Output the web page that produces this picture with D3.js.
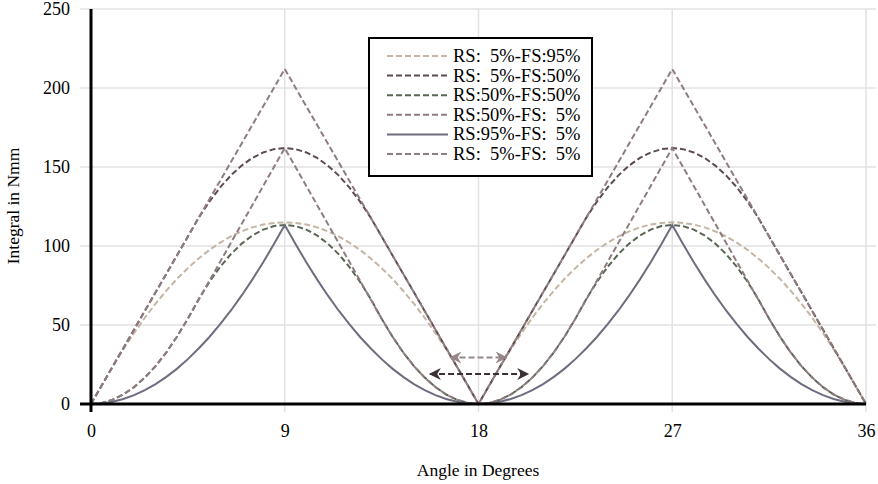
<!DOCTYPE html>
<html>
<head>
<meta charset="utf-8">
<script src="https://cdn.jsdelivr.net/npm/d3@7"></script>
<style>
	body { margin: 0; background: #fff; }
	svg text { font-family: 'Liberation Serif', 'Times New Roman', serif; fill: #000; }
</style>
</head>
<body>
<svg id="chart" width="878" height="484"></svg>
<script>
// Angle grid, 0.5 degree steps.
const angles = [
	0, 0.5, 1, 1.5, 2, 2.5, 3, 3.5, 4, 4.5, 5, 5.5, 6, 6.5, 7, 7.5, 8, 8.5, 9,
	9.5, 10, 10.5, 11, 11.5, 12, 12.5, 13, 13.5, 14, 14.5, 15, 15.5, 16, 16.5, 17, 17.5, 18,
	18.5, 19, 19.5, 20, 20.5, 21, 21.5, 22, 22.5, 23, 23.5, 24, 24.5, 25, 25.5, 26, 26.5, 27,
	27.5, 28, 28.5, 29, 29.5, 30, 30.5, 31, 31.5, 32, 32.5, 33, 33.5, 34, 34.5, 35, 35.5, 36
];

const rs5fs95 = [
	0, 11.8, 23.5, 34.6, 44.9, 54.6, 63.5, 71.7, 79.3, 86, 92.1, 97.5, 102.1, 106.1, 109.3, 111.8, 113.6, 114.6, 115,
	114.6, 113.6, 111.8, 109.3, 106.1, 102.1, 97.5, 92.1, 86, 79.3, 71.7, 63.5, 54.6, 44.9, 34.6, 23.5, 11.8, 0,
	11.8, 23.5, 34.6, 44.9, 54.6, 63.5, 71.7, 79.3, 86, 92.1, 97.5, 102.1, 106.1, 109.3, 111.8, 113.6, 114.6, 115,
	114.6, 113.6, 111.8, 109.3, 106.1, 102.1, 97.5, 92.1, 86, 79.3, 71.7, 63.5, 54.6, 44.9, 34.6, 23.5, 11.8, 0
];

const rs5fs50 = [
	0, 11.8, 23.6, 35.3, 47.1, 58.9, 70.7, 82.4, 94.2, 106, 117.8, 128.1, 137.1, 144.7, 150.9, 155.8, 159.2, 161.3, 162,
	161.3, 159.2, 155.8, 150.9, 144.7, 137.1, 128.1, 117.8, 106, 94.2, 82.4, 70.7, 58.9, 47.1, 35.3, 23.6, 11.8, 0,
	11.8, 23.6, 35.3, 47.1, 58.9, 70.7, 82.4, 94.2, 106, 117.8, 128.1, 137.1, 144.7, 150.9, 155.8, 159.2, 161.3, 162,
	161.3, 159.2, 155.8, 150.9, 144.7, 137.1, 128.1, 117.8, 106, 94.2, 82.4, 70.7, 58.9, 47.1, 35.3, 23.6, 11.8, 0
];

const rs50fs50 = [
	0, 0.7, 2.7, 6, 10.7, 16.7, 24, 32.7, 42.7, 54, 66.3, 77.3, 86.8, 94.9, 101.5, 106.7, 110.4, 112.6, 113.3,
	112.6, 110.4, 106.7, 101.5, 94.9, 86.8, 77.3, 66.3, 54, 42.7, 32.7, 24, 16.7, 10.7, 6, 2.7, 0.7, 0,
	0.7, 2.7, 6, 10.7, 16.7, 24, 32.7, 42.7, 54, 66.3, 77.3, 86.8, 94.9, 101.5, 106.7, 110.4, 112.6, 113.3,
	112.6, 110.4, 106.7, 101.5, 94.9, 86.8, 77.3, 66.3, 54, 42.7, 32.7, 24, 16.7, 10.7, 6, 2.7, 0.7, 0
];

const rs50fs5 = [
	0, 0.7, 2.7, 6, 10.7, 16.7, 24, 32.7, 42.7, 54, 66, 78, 90, 102, 114, 126, 138, 150, 162,
	150, 138, 126, 114, 102, 90, 78, 66, 54, 42.7, 32.7, 24, 16.7, 10.7, 6, 2.7, 0.7, 0,
	0.7, 2.7, 6, 10.7, 16.7, 24, 32.7, 42.7, 54, 66, 78, 90, 102, 114, 126, 138, 150, 162,
	150, 138, 126, 114, 102, 90, 78, 66, 54, 42.7, 32.7, 24, 16.7, 10.7, 6, 2.7, 0.7, 0
];

const rs95fs5 = [
	0, 0.4, 1.4, 3.2, 5.6, 8.8, 12.6, 17.2, 22.4, 28.4, 35.1, 42.4, 50.5, 59.2, 68.7, 78.9, 89.7, 101.3, 113.3,
	101.3, 89.7, 78.9, 68.7, 59.2, 50.5, 42.4, 35.1, 28.4, 22.4, 17.2, 12.6, 8.8, 5.6, 3.2, 1.4, 0.4, 0,
	0.4, 1.4, 3.2, 5.6, 8.8, 12.6, 17.2, 22.4, 28.4, 35.1, 42.4, 50.5, 59.2, 68.7, 78.9, 89.7, 101.3, 113.3,
	101.3, 89.7, 78.9, 68.7, 59.2, 50.5, 42.4, 35.1, 28.4, 22.4, 17.2, 12.6, 8.8, 5.6, 3.2, 1.4, 0.4, 0
];

const rs5fs5 = [
	0, 11.8, 23.6, 35.3, 47.1, 58.9, 70.7, 82.4, 94.2, 106, 117.8, 129.6, 141.3, 153.1, 164.9, 176.7, 188.4, 200.2, 212,
	200.2, 188.4, 176.7, 164.9, 153.1, 141.3, 129.6, 117.8, 106, 94.2, 82.4, 70.7, 58.9, 47.1, 35.3, 23.6, 11.8, 0,
	11.8, 23.6, 35.3, 47.1, 58.9, 70.7, 82.4, 94.2, 106, 117.8, 129.6, 141.3, 153.1, 164.9, 176.7, 188.4, 200.2, 212,
	200.2, 188.4, 176.7, 164.9, 153.1, 141.3, 129.6, 117.8, 106, 94.2, 82.4, 70.7, 58.9, 47.1, 35.3, 23.6, 11.8, 0
];

const seriesNames = ['RS:  5%-FS:95%', 'RS:  5%-FS:50%', 'RS:50%-FS:50%', 'RS:50%-FS:  5%', 'RS:95%-FS:  5%', 'RS:  5%-FS:  5%'];
const seriesValues = [rs5fs95, rs5fs50, rs50fs50, rs50fs5, rs95fs5, rs5fs5];

const xTicks = [0, 9, 18, 27, 36];
const yTicks = [0, 50, 100, 150, 200, 250];

// Double arrows around 18 degrees: [from, to, level].
const arrowOuter = [15.75, 20.3, 19];
const arrowInner = [16.7, 19.3, 29.5];

const styles = [
	{ color: '#c4b5a5', dash: '6,3' },
	{ color: '#5d4b4d', dash: '6,3' },
	{ color: '#5a6654', dash: '6,3' },
	{ color: '#8f7c80', dash: '6,3' },
	{ color: '#6e6c7f', dash: null },
	{ color: '#8f7c80', dash: '6,3' }
];

const svg = d3.select('#chart');

const x = d3.scaleLinear().domain([0, 36]).range([91, 866]);
const y = d3.scaleLinear().domain([0, 250]).range([404, 9]);

// Grid.
const grid = svg.append('g').attr('stroke', '#e2e2e2').attr('stroke-width', 1.5);

grid.selectAll('line.h')
	.data(yTicks.filter(d => d > 0))
	.join('line')
	.attr('class', 'h')
	.attr('x1', 80)
	.attr('x2', 876)
	.attr('y1', d => y(d))
	.attr('y2', d => y(d));

grid.selectAll('line.v')
	.data(xTicks.filter(d => d > 0))
	.join('line')
	.attr('class', 'v')
	.attr('x1', d => x(d))
	.attr('x2', d => x(d))
	.attr('y1', y(250))
	.attr('y2', 412);

// Tick labels.
const yAxis = svg.append('g')
	.attr('transform', `translate(${x(0)},0)`)
	.call(d3.axisLeft(y).tickValues(yTicks).tickSize(0).tickPadding(21));

const xAxis = svg.append('g')
	.attr('transform', `translate(0,${y(0)})`)
	.call(d3.axisBottom(x).tickValues(xTicks).tickSize(0).tickPadding(20));

[xAxis, yAxis].forEach(g => {
	g.select('.domain').remove();
	g.attr('font-family', null).attr('font-size', 18);
});

// Curves.
const line = d3.line()
	.x((d, i) => x(angles[i]))
	.y(d => y(d));

svg.append('g')
	.attr('fill', 'none')
	.selectAll('path')
	.data(seriesValues)
	.join('path')
	.attr('d', line)
	.attr('stroke', (d, i) => styles[i].color)
	.attr('stroke-width', 2)
	.attr('stroke-dasharray', (d, i) => styles[i].dash);

// Axis lines on top of the curves.
svg.append('line')
	.attr('x1', 80).attr('x2', x(36))
	.attr('y1', y(0)).attr('y2', y(0))
	.attr('stroke', '#000').attr('stroke-width', 3);

svg.append('line')
	.attr('x1', x(0)).attr('x2', x(0))
	.attr('y1', y(250)).attr('y2', 412)
	.attr('stroke', '#000').attr('stroke-width', 3);

// Arrow markers.
const defs = svg.append('defs');

[['head-dark', '#3b2f33'], ['head-light', '#978789']].forEach(([id, color]) => {
	defs.append('marker')
		.attr('id', id)
		.attr('viewBox', '0 0 10 10')
		.attr('refX', 9)
		.attr('refY', 5)
		.attr('markerUnits', 'userSpaceOnUse')
		.attr('markerWidth', 16)
		.attr('markerHeight', 12)
		.attr('orient', 'auto-start-reverse')
		.append('path')
		.attr('d', 'M0,0 L10,5 L0,10 L3,5 Z')
		.attr('fill', color);
});

const drawArrow = ([from, to, level], id, color) => {
	svg.append('line')
		.attr('x1', x(from)).attr('x2', x(to))
		.attr('y1', y(level)).attr('y2', y(level))
		.attr('stroke', color)
		.attr('stroke-width', 2)
		.attr('stroke-dasharray', '6,3')
		.attr('marker-start', `url(#${id})`)
		.attr('marker-end', `url(#${id})`);
};

drawArrow(arrowOuter, 'head-dark', '#3b2f33');
drawArrow(arrowInner, 'head-light', '#978789');

// Axis titles.
svg.append('text')
	.attr('x', 478)
	.attr('y', 476)
	.attr('text-anchor', 'middle')
	.attr('font-size', 17.5)
	.text('Angle in Degrees');

svg.append('text')
	.attr('transform', 'translate(19,206) rotate(-90)')
	.attr('text-anchor', 'middle')
	.attr('font-size', 17.5)
	.text('Integral in Nmm');

// Legend.
const legend = svg.append('g');

legend.append('rect')
	.attr('x', 369)
	.attr('y', 38)
	.attr('width', 223)
	.attr('height', 138)
	.attr('fill', '#fff')
	.attr('stroke', '#000')
	.attr('stroke-width', 2);

const rows = legend.selectAll('g.row')
	.data(seriesNames)
	.join('g')
	.attr('class', 'row')
	.attr('transform', (d, i) => `translate(0,${56 + i * 19.6})`);

rows.append('line')
	.attr('x1', 387)
	.attr('x2', 448)
	.attr('stroke', (d, i) => styles[i].color)
	.attr('stroke-width', 2)
	.attr('stroke-dasharray', (d, i) => styles[i].dash);

rows.append('text')
	.attr('x', 453)
	.attr('y', 6)
	.attr('font-size', 18.5)
	.style('white-space', 'pre')
	.text(d => d);
</script>
</body>
</html>
